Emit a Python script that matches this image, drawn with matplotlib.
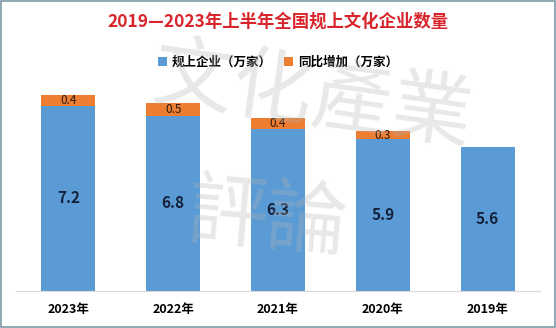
import matplotlib
matplotlib.use("Agg")
import matplotlib.pyplot as plt
from matplotlib.patches import Rectangle

plt.rcParams["font.family"] = ["Noto Sans CJK SC", "DejaVu Sans"]

years = ["2023年", "2022年", "2021年", "2020年", "2019年"]
base = [7.2, 6.8, 6.3, 5.9, 5.6]
growth = [0.4, 0.5, 0.4, 0.3, 0.0]

BLUE = "#5B9BD5"
ORANGE = "#ED7D31"

fig = plt.figure(figsize=(5.56, 3.28), dpi=100, facecolor="white")
ax = fig.add_axes([16 / 556, 0.113, 524 / 556, 0.628])

x = range(len(years))
ax.bar(x, base, width=0.515, color=BLUE, label="规上企业（万家）", zorder=2)
ax.bar(x, growth, width=0.515, bottom=base, color=ORANGE,
       label="同比增加（万家）", zorder=2)

for i, (b, g) in enumerate(zip(base, growth)):
    ax.text(i, b / 2, f"{b}", ha="center", va="center", fontsize=11,
            fontweight="bold", color="#15213a", zorder=5)
    if g > 0:
        ax.text(i, b + g / 2, f"{g}", ha="center", va="center", fontsize=8.5,
                color="#2a1a10", zorder=5)

# 浅灰水印，盖在柱子上
wm = dict(color="#b4b4b4", alpha=0.3, fontsize=58, ha="center", va="center",
          zorder=4)
fig.text(0.56, 0.70, "文化產業", rotation=-8, **wm)
fig.text(0.48, 0.33, "評論", rotation=-5, **wm)

ax.set_xlim(-0.5, len(years) - 0.5)
ax.set_ylim(0, 8)
ax.set_xticks(list(x))
ax.set_xticklabels(years, fontsize=9, fontweight="bold")
ax.tick_params(axis="x", length=0, pad=9)
ax.set_yticks([])
for s in ["top", "left", "right"]:
    ax.spines[s].set_visible(False)
ax.spines["bottom"].set_color("#d9d9d9")
ax.patch.set_alpha(0)

fig.text(0.5, 0.933, "2019—2023年上半年全国规上文化企业数量", ha="center",
         va="center", fontsize=12.5, fontweight="bold", color="#d8252b")
ax.legend(loc="center", bbox_to_anchor=(0.5, 0.81), bbox_transform=fig.transFigure,
          ncol=2, frameon=False, prop={"weight": "bold", "size": 9},
          handlelength=0.7, handleheight=0.7, handletextpad=0.4, columnspacing=1.0)

fig.patches.append(Rectangle((0.002, 0.003), 0.996, 0.994, transform=fig.transFigure,
                             fill=False, edgecolor="#7d98a8", linewidth=1.2))

fig.savefig("out.png", dpi=100, facecolor="white")
